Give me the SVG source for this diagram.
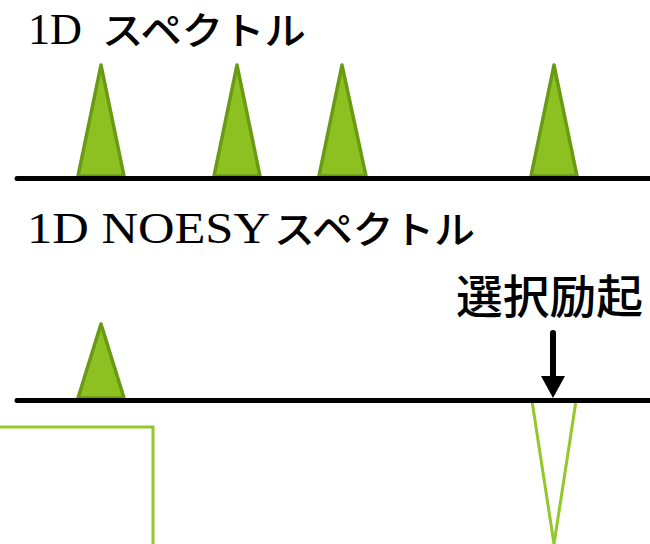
<svg xmlns="http://www.w3.org/2000/svg" width="650" height="544" viewBox="0 0 650 544">
<style>
.base{stroke:#000;stroke-width:5;stroke-linecap:round;fill:none}
.peak{fill:#8dc021;stroke:#6a9a14;stroke-width:3.5;stroke-linejoin:round}
.neg{fill:none;stroke:#92c82a;stroke-width:3}
.lat{font-family:"Liberation Serif","DejaVu Serif",serif;font-size:44px;fill:#000}
.kana{font-family:"Noto Sans CJK JP","Noto Sans",sans-serif;font-size:38px;font-weight:500;fill:#000}
.lbl{font-family:"Noto Sans CJK JP","Noto Sans",sans-serif;font-size:46px;font-weight:500;fill:#000}
</style>
<g id="title1">
<text x="28" y="44"><tspan class="lat" textLength="54" lengthAdjust="spacingAndGlyphs">1D</tspan><tspan class="kana" x="102" textLength="204" lengthAdjust="spacingAndGlyphs">スペクトル</tspan></text>
</g>
<g id="title2">
<text x="27" y="243"><tspan class="lat" textLength="243" lengthAdjust="spacingAndGlyphs">1D NOESY</tspan><tspan class="kana" x="274" textLength="201" lengthAdjust="spacingAndGlyphs">スペクトル</tspan></text>
</g>
<g id="label-selective">
<text class="lbl" x="456" y="313" textLength="187" lengthAdjust="spacingAndGlyphs">選択励起</text>
</g>
<g id="spectrum1">
<polygon class="peak" points="78,176 101,65 124,176"/>
<polygon class="peak" points="214,176 237,65 260,176"/>
<polygon class="peak" points="319,176 342,65 366,176"/>
<polygon class="peak" points="531,176 554,65 577,176"/>
<line class="base" x1="17" y1="178.5" x2="652" y2="178.5"/>
</g>
<g id="spectrum2">
<polygon class="peak" points="78,398 101,324 124,398"/>
<polyline class="neg" points="532,401 554,544 576,401"/>
<line class="base" x1="17" y1="400.5" x2="652" y2="400.5"/>
</g>
<g id="box">
<polyline class="neg" points="0,427 153,427 153,546"/>
</g>
<g id="connectors">
<line x1="553" y1="333" x2="553" y2="378" stroke="#000" stroke-width="6" stroke-linecap="round"/>
<polygon points="541,376 565,376 553,398" fill="#000"/>
</g>
</svg>
